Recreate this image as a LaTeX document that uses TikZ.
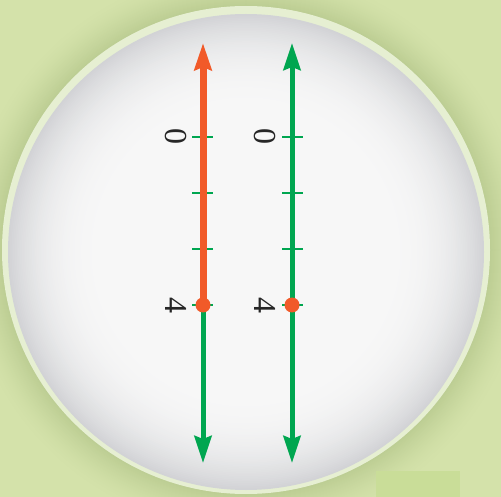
\documentclass[tikz,border=0pt]{standalone}
\usepackage{fontspec}
\setmainfont{Liberation Serif}
\usetikzlibrary{arrows.meta}
\definecolor{bggreen}{HTML}{D4E2AA}
\definecolor{shadowgreen}{HTML}{BCCD93}
\definecolor{ringgreen}{HTML}{E6EFD2}
\definecolor{rectgreen}{HTML}{C9DD98}
\definecolor{myorange}{HTML}{F15A29}
\definecolor{mygreen}{HTML}{00A650}
\definecolor{disklight}{HTML}{F7F7F7}
\definecolor{diskedge}{HTML}{D2D3D6}
\tikzset{
  tick/.style={mygreen, line width=2.2pt},
  numlabel/.style={font=\fontsize{32}{32}\selectfont, text=black!85, rotate=-90, inner sep=0pt},
  orangeline/.style={myorange, line width=7pt, -{Stealth[length=27pt, width=17pt, inset=3pt]}},
  greenline/.style={mygreen, line width=5pt, -{Stealth[length=27pt, width=17pt, inset=3pt]}},
  dot/.style={circle, fill=myorange, minimum size=15pt, inner sep=0pt},
}
\begin{document}
\begin{tikzpicture}[x=1pt, y=-1pt]
\useasboundingbox (0,0) rectangle (501,497);
\fill[bggreen] (0,0) rectangle (501,497);
% shadow around the disk
\foreach \i in {0,...,40} {
  \pgfmathsetmacro{\pct}{100*(\i/40)^1.6}
  \fill[shadowgreen!\pct!bggreen] (246,250) circle ({284-\i});
}
% faint rectangle bottom right
\fill[rectgreen] (376,471) rectangle (460,497);
% disk
\fill[ringgreen] (246,250) circle (244);
\foreach \i in {0,...,60} {
  \pgfmathsetmacro{\pct}{100*((60-\i)/60)^2.6}
  \fill[diskedge!\pct!disklight] (246,252) circle ({238-\i*1.7});
}
% coordinates
\coordinate (otop) at (203,43);
\coordinate (obot) at (203,463);
\coordinate (gtop) at (292,43);
\coordinate (gbot) at (292,463);
\coordinate (opt) at (203,305);
% ticks
\foreach \y [count=\i] in {137,193,249,305} {
  \coordinate (lt\i) at (192,\y); \coordinate (lr\i) at (213,\y);
  \coordinate (rt\i) at (282,\y); \coordinate (rr\i) at (303,\y);
  \draw[tick] (lt\i) -- (lr\i);
  \draw[tick] (rt\i) -- (rr\i);
}
% labels
\node[numlabel] (l0) at (176,137) {0};
\node[numlabel] (l4) at (176,306) {4};
\node[numlabel] (r0) at (265,137) {0};
\node[numlabel] (r4) at (265,306) {4};
% lines
\draw[greenline] (opt) -- (obot);
\draw[orangeline] (opt) -- (otop);
\draw[greenline] (gtop|-opt) -- (gtop);
\draw[greenline] (gtop|-opt) -- (gbot);
% dots
\node[dot] (d1) at (opt) {};
\node[dot] (d2) at (292,305) {};
\end{tikzpicture}
\end{document}
